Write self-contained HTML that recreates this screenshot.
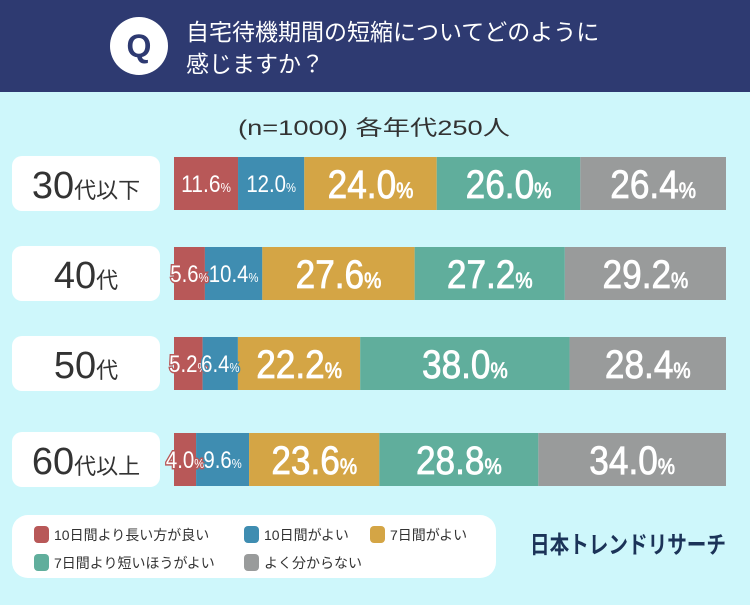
<!DOCTYPE html>
<html><head><meta charset="utf-8">
<style>
body{margin:0;width:750px;height:600px;overflow:hidden;background:#cef7fb;font-family:"Liberation Sans","Noto Sans CJK JP",sans-serif;}
</style></head>
<body>
<svg width="750" height="600" xmlns="http://www.w3.org/2000/svg" id="chart">
<rect x="0" y="0" width="750" height="600" fill="#cef7fb"/>
<rect x="0" y="0" width="750" height="92" fill="#2e3a71"/>
<circle cx="139" cy="46" r="29" fill="#fff"/>
<text x="139" y="57" text-anchor="middle" font-size="32" font-weight="bold" fill="#2e3a71">Q</text>
<text x="186" y="40" font-size="23" fill="#fff">自宅待機期間の短縮についてどのように</text>
<text x="186" y="72" font-size="23" fill="#fff">感じますか？</text>
<text x="238" y="135" font-size="21" fill="#333" textLength="272" lengthAdjust="spacingAndGlyphs">(n=1000) 各年代250人</text>
<g id="rows"></g>
<rect x="12" y="515" width="484" height="63" rx="16" fill="#fff"/>
<g id="legend"></g>
<text x="530" y="553" font-size="24" font-weight="bold" fill="#1b3358" textLength="196" lengthAdjust="spacingAndGlyphs">日本トレンドリサーチ</text>
</svg>
<script>
const categories = ["30代以下","40代","50代","60代以上"];
const seriesNames = ["10日間より長い方が良い","10日間がよい","7日間がよい","7日間より短いほうがよい","よく分からない"];
const seriesColors = ["#b85858","#3f8db1","#d4a545","#60ae9c","#999b9b"];
const s1 = [11.6,5.6,5.2,4.0];
const s2 = [12.0,10.4,6.4,9.6];
const s3 = [24.0,27.6,22.2,23.6];
const s4 = [26.0,27.2,38.0,28.8];
const s5 = [26.4,29.2,28.4,34.0];
const series=[s1,s2,s3,s4,s5];
const NS="http://www.w3.org/2000/svg";
const X0=174,X1=726,rowY=[157,247,337,433],BH=53;
function xs(v,total){return (X1-X0)*v/total;}
const rows=document.getElementById('rows');
function mk(t,a){const e=document.createElementNS(NS,t);for(const k in a)e.setAttribute(k,a[k]);return e;}
categories.forEach((c,i)=>{
  const y=rowY[i];
  const lb=mk('rect',{x:12,y:y-1,width:148,height:BH+2,rx:10,fill:'#fff'});
  
  
  rows.appendChild(lb);
  const num=c.match(/^\d+/)[0], rest=c.slice(num.length);
  const t=mk('text',{x:86,y:y+41,'text-anchor':'middle',fill:'#333','font-size':22});
  
  
  const n=mk('tspan',{'font-size':38});n.textContent=num;t.appendChild(n);
  const r=mk('tspan',{});r.textContent=rest;t.appendChild(r);
  rows.appendChild(t);
  let total=0;series.forEach(s=>total+=s[i]);
  let x=X0;
  const labels=[];
  series.forEach((s,j)=>{
    const w=xs(s[i],total);
    const b=mk('rect',{x:x,y:y,width:w,height:BH,fill:seriesColors[j]});
    
    
    rows.appendChild(b);
    labels.push([x,w,s[i],j]);
    x+=w;
  });
  labels.forEach(([x,w,val,j])=>{
    const big=w>70;
    const fs=big?40:24;
    const str=val.toFixed(1);
    const nat=(str.length-1)*0.556*fs+0.278*fs+0.889*fs*0.55;
    const tl=nat*(big?0.88:0.85);
    const lt=mk('text',{x:x+w/2-tl/2,y:y+(big?41:35),fill:'#fff','font-size':fs,textLength:tl,lengthAdjust:'spacingAndGlyphs'});
    if(big){lt.setAttribute('stroke','#fff');lt.setAttribute('stroke-width','0.8');}
    else{lt.setAttribute('stroke',seriesColors[j]);lt.setAttribute('stroke-width','3');lt.setAttribute('paint-order','stroke');}
    
    
    const v=mk('tspan',{});v.textContent=str;lt.appendChild(v);
    const p=mk('tspan',{'font-size':fs*0.55});p.textContent='%';lt.appendChild(p);
    rows.appendChild(lt);
  });
});
const leg=document.getElementById('legend');
const lpos=[[34,534],[244,534],[370,534],[34,562],[244,562]];
seriesNames.forEach((nm,j)=>{
  const [lx,ly]=lpos[j];
  const r=mk('rect',{x:lx,y:ly-8,width:15,height:17,rx:4,fill:seriesColors[j]});
  
  
  leg.appendChild(r);
  const t=mk('text',{x:lx+20,y:ly+6,'font-size':14,fill:'#333'});
  t.textContent=nm;
  
  
  leg.appendChild(t);
});
</script>
</body></html>
